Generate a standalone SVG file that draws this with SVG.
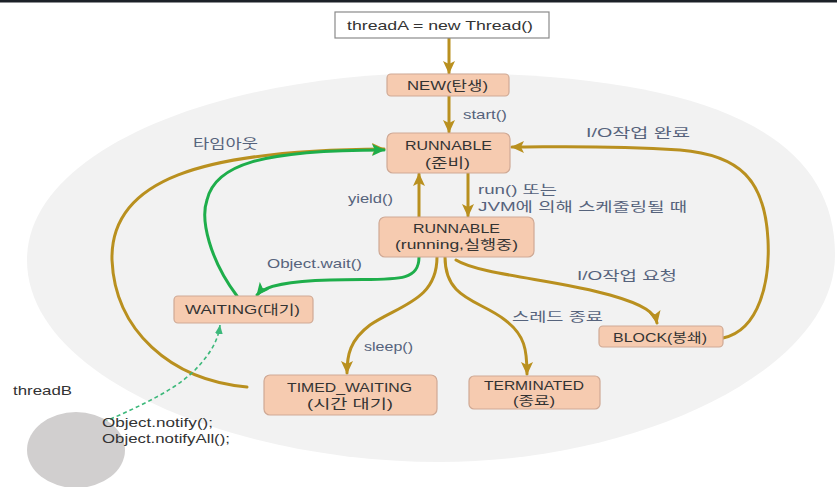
<svg xmlns="http://www.w3.org/2000/svg" width="837" height="487" viewBox="0 0 837 487">
<style>
.node{fill:#f6cbb0;stroke:#cfa995;stroke-width:1.2}
.t{font-family:"Liberation Sans","Noto Sans CJK KR",sans-serif;font-size:13px;fill:#333333}
.lbl{font-family:"Liberation Sans","Noto Sans CJK KR",sans-serif;font-size:13px;fill:#56637c}
.gold{fill:none;stroke:#b9901f;stroke-width:3;stroke-linecap:round;marker-end:url(#ag)}
.gold0{fill:none;stroke:#b9901f;stroke-width:3;stroke-linecap:round}
.green{fill:none;stroke:#1eae4b;stroke-width:3;stroke-linecap:round;marker-end:url(#agr)}
.dash{fill:none;stroke:#3cb87a;stroke-width:1.6;stroke-dasharray:4 3;marker-end:url(#adash)}
</style>
<defs>
<marker id="ag" markerUnits="userSpaceOnUse" markerWidth="14" markerHeight="14" viewBox="0 0 14 14" refX="12" refY="7" orient="auto">
<path d="M0,1 L13,7 L0,13 L3,7 z" fill="#b9901f"/>
</marker>
<marker id="agr" markerUnits="userSpaceOnUse" markerWidth="14" markerHeight="14" viewBox="0 0 14 14" refX="12" refY="7" orient="auto">
<path d="M0,1 L13,7 L0,13 L3,7 z" fill="#1eae4b"/>
</marker>
<marker id="adash" markerUnits="userSpaceOnUse" markerWidth="10" markerHeight="10" viewBox="0 0 10 10" refX="9" refY="5" orient="auto">
<path d="M0,1 L9,5 L0,9 z" fill="#3cb87a"/>
</marker>
</defs>
<rect x="0" y="0" width="837" height="487" fill="#ffffff"/>
<rect x="0" y="0" width="837" height="2.5" fill="#1c2128"/>
<path d="M27,260 C27,150 220,73 440,73 C700,73 835,130 835,255 C835,370 640,462 440,462 C240,462 27,380 27,260 Z" fill="#f2f2f2"/>

<g id="connectors">
<path class="gold" d="M449,38 L449,73"/>
<path class="gold" d="M449,96 L449,132"/>
<path class="gold" d="M468,173 L468,216"/>
<path class="gold" d="M419,217 L419,174"/>
<path class="gold" d="M247,387 C170,380 115,330 112,260 C110,180 200,150 384,149"/>
<path class="green" d="M237,296 C210,260 200,220 207,200 C215,165 260,150 384,150"/>
<path class="green" d="M419,257 C419,285 390,278 330,280 C290,281 265,285 257,295"/>
<path class="gold" d="M437,257 C437,300 400,305 370,325 C350,340 347,355 347,373"/>
<path class="gold" d="M445,257 C445,300 480,300 505,320 C525,335 527,350 527,374"/>
<path class="gold" d="M456,260 C480,275 560,280 610,295 C645,305 655,313 657,323"/>
<path class="gold" d="M723,338 C760,330 770,280 768,240 C765,180 740,155 680,150 C600,145 560,147 512,147"/>
<path class="dash" d="M78,433 C120,415 170,395 195,370 C212,352 218,340 220,325"/>
<g id="labels">
<text class="lbl" x="463" y="119" textLength="44" lengthAdjust="spacingAndGlyphs">start()</text>
<text class="lbl" x="478" y="194" textLength="79" lengthAdjust="spacingAndGlyphs">run() 또는</text>
<text class="lbl" x="478" y="211" textLength="209" lengthAdjust="spacingAndGlyphs">JVM에 의해 스케줄링될 때</text>
<text class="lbl" x="348" y="203" textLength="45" lengthAdjust="spacingAndGlyphs">yield()</text>
<text class="lbl" x="193" y="148" textLength="65" lengthAdjust="spacingAndGlyphs">타임아웃</text>
<text class="lbl" x="267" y="268" textLength="95" lengthAdjust="spacingAndGlyphs">Object.wait()</text>
<text class="lbl" x="364" y="351" textLength="49" lengthAdjust="spacingAndGlyphs">sleep()</text>
<text class="lbl" x="512" y="321" textLength="91" lengthAdjust="spacingAndGlyphs">스레드 종료</text>
<text class="lbl" x="577" y="280" textLength="100" lengthAdjust="spacingAndGlyphs">I/O작업 요청</text>
<text class="lbl" x="586" y="137" textLength="104" lengthAdjust="spacingAndGlyphs">I/O작업 완료</text>
</g>
</g>

<g id="n-threadA">
<rect x="335" y="12" width="214" height="26" fill="#ffffff" stroke="#8a8a8a" stroke-width="1.2"/>
<text class="t" x="347" y="30" font-size="14" textLength="186" lengthAdjust="spacingAndGlyphs">threadA = new Thread()</text>
</g>
<g id="n-new">
<rect class="node" x="387" y="74" width="122" height="22" rx="4"/>
<text class="t" x="407" y="90" textLength="81" lengthAdjust="spacingAndGlyphs">NEW(탄생)</text>
</g>
<g id="n-ready">
<rect class="node" x="387" y="133" width="123" height="40" rx="6"/>
<text class="t" x="405" y="150" textLength="87" lengthAdjust="spacingAndGlyphs">RUNNABLE</text>
<text class="t" x="425" y="167" textLength="45" lengthAdjust="spacingAndGlyphs">(준비)</text>
</g>
<g id="n-running">
<rect class="node" x="379" y="217" width="155" height="40" rx="6"/>
<text class="t" x="413" y="233" textLength="87" lengthAdjust="spacingAndGlyphs">RUNNABLE</text>
<text class="t" x="395" y="249" textLength="123" lengthAdjust="spacingAndGlyphs">(running,실행중)</text>
</g>
<g id="n-waiting">
<rect class="node" x="174" y="296" width="139" height="27" rx="4"/>
<text class="t" x="185" y="314" textLength="115" lengthAdjust="spacingAndGlyphs">WAITING(대기)</text>
</g>
<g id="n-timed">
<rect class="node" x="264" y="375" width="173" height="40" rx="6"/>
<text class="t" x="287" y="392" textLength="125" lengthAdjust="spacingAndGlyphs">TIMED_WAITING</text>
<text class="t" x="307" y="408" textLength="86" lengthAdjust="spacingAndGlyphs">(시간 대기)</text>
</g>
<g id="n-terminated">
<rect class="node" x="469" y="376" width="131" height="33" rx="5"/>
<text class="t" x="484" y="390" textLength="100" lengthAdjust="spacingAndGlyphs">TERMINATED</text>
<text class="t" x="513" y="405" textLength="42" lengthAdjust="spacingAndGlyphs">(종료)</text>
</g>
<g id="n-block">
<rect class="node" x="599" y="326" width="124" height="21" rx="4"/>
<text class="t" x="613" y="342" textLength="94" lengthAdjust="spacingAndGlyphs">BLOCK(봉쇄)</text>
</g>
<g id="n-threadB">
<ellipse cx="76" cy="450" rx="49" ry="38" fill="#d1cfcf"/>
<text class="t" x="13" y="395" textLength="59" lengthAdjust="spacingAndGlyphs">threadB</text>
<text class="t" x="102" y="427" textLength="111" lengthAdjust="spacingAndGlyphs">Object.notify();</text>
<text class="t" x="102" y="443" textLength="128" lengthAdjust="spacingAndGlyphs">Object.notifyAll();</text>
</g>
</svg>
